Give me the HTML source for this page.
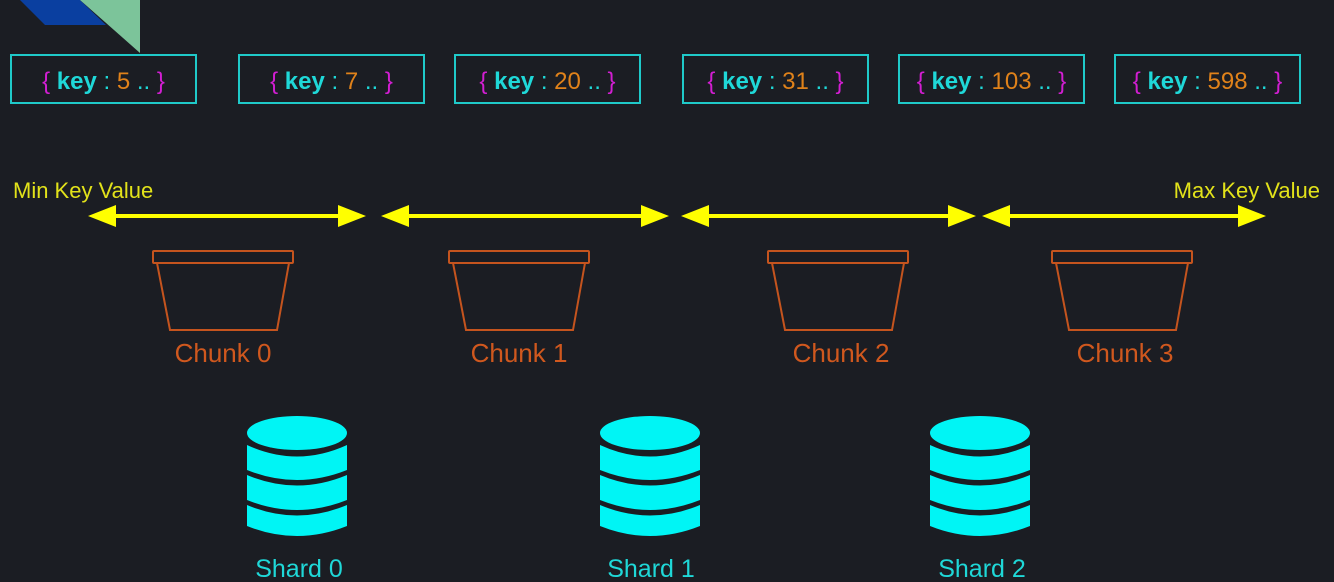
<!DOCTYPE html>
<html><head><meta charset="utf-8"><style>
html,body{margin:0;padding:0;background:#1b1d23;}
svg{display:block;}
text{font-family:"Liberation Sans",sans-serif;}
</style></head><body>
<svg width="1334" height="582" viewBox="0 0 1334 582" xmlns="http://www.w3.org/2000/svg">
<rect width="1334" height="582" fill="#1b1d23"/>
<polygon points="20,0 80,0 106,25 45,25" fill="#0a3fa0"/>
<polygon points="80,0 140,0 140,53" fill="#7cc49a"/>
<g fill="none" stroke="#1fc9c9" stroke-width="2">
<rect x="11" y="55" width="185" height="48"/>
<rect x="239" y="55" width="185" height="48"/>
<rect x="455" y="55" width="185" height="48"/>
<rect x="683" y="55" width="185" height="48"/>
<rect x="899" y="55" width="185" height="48"/>
<rect x="1115" y="55" width="185" height="48"/>
</g>
<g font-size="24" text-anchor="middle">
<text x="103.5" y="89"><tspan fill="#d21ed2">{ </tspan><tspan fill="#1fd8d8" font-weight="bold">key</tspan><tspan fill="#1fd8d8"> : </tspan><tspan fill="#e0821a">5</tspan><tspan fill="#1fd8d8"> .. </tspan><tspan fill="#d21ed2">}</tspan></text>
<text x="331.5" y="89"><tspan fill="#d21ed2">{ </tspan><tspan fill="#1fd8d8" font-weight="bold">key</tspan><tspan fill="#1fd8d8"> : </tspan><tspan fill="#e0821a">7</tspan><tspan fill="#1fd8d8"> .. </tspan><tspan fill="#d21ed2">}</tspan></text>
<text x="547.5" y="89"><tspan fill="#d21ed2">{ </tspan><tspan fill="#1fd8d8" font-weight="bold">key</tspan><tspan fill="#1fd8d8"> : </tspan><tspan fill="#e0821a">20</tspan><tspan fill="#1fd8d8"> .. </tspan><tspan fill="#d21ed2">}</tspan></text>
<text x="775.5" y="89"><tspan fill="#d21ed2">{ </tspan><tspan fill="#1fd8d8" font-weight="bold">key</tspan><tspan fill="#1fd8d8"> : </tspan><tspan fill="#e0821a">31</tspan><tspan fill="#1fd8d8"> .. </tspan><tspan fill="#d21ed2">}</tspan></text>
<text x="991.5" y="89"><tspan fill="#d21ed2">{ </tspan><tspan fill="#1fd8d8" font-weight="bold">key</tspan><tspan fill="#1fd8d8"> : </tspan><tspan fill="#e0821a">103</tspan><tspan fill="#1fd8d8"> .. </tspan><tspan fill="#d21ed2">}</tspan></text>
<text x="1207.5" y="89"><tspan fill="#d21ed2">{ </tspan><tspan fill="#1fd8d8" font-weight="bold">key</tspan><tspan fill="#1fd8d8"> : </tspan><tspan fill="#e0821a">598</tspan><tspan fill="#1fd8d8"> .. </tspan><tspan fill="#d21ed2">}</tspan></text>
</g>
<g font-size="22" fill="#e2e21a">
<text x="13" y="198">Min Key Value</text>
<text x="1320" y="198" text-anchor="end">Max Key Value</text>
</g>
<g stroke="#ffff00" stroke-width="4" fill="#ffff00">
<line x1="110" y1="216" x2="342" y2="216"/>
<polygon points="88,216 116,205 116,227" stroke="none"/><polygon points="366,216 338,205 338,227" stroke="none"/>
<line x1="403" y1="216" x2="645" y2="216"/>
<polygon points="381,216 409,205 409,227" stroke="none"/><polygon points="669,216 641,205 641,227" stroke="none"/>
<line x1="703" y1="216" x2="952" y2="216"/>
<polygon points="681,216 709,205 709,227" stroke="none"/><polygon points="976,216 948,205 948,227" stroke="none"/>
<line x1="1004" y1="216" x2="1242" y2="216"/>
<polygon points="982,216 1010,205 1010,227" stroke="none"/><polygon points="1266,216 1238,205 1238,227" stroke="none"/>
</g>
<g fill="none" stroke="#c5541e" stroke-width="2">
<g transform="translate(223,0)"><rect x="-70" y="251" width="140" height="12" rx="1"/><polygon points="-66,263 66,263 54,330 -53,330"/></g>
<g transform="translate(519,0)"><rect x="-70" y="251" width="140" height="12" rx="1"/><polygon points="-66,263 66,263 54,330 -53,330"/></g>
<g transform="translate(838,0)"><rect x="-70" y="251" width="140" height="12" rx="1"/><polygon points="-66,263 66,263 54,330 -53,330"/></g>
<g transform="translate(1122,0)"><rect x="-70" y="251" width="140" height="12" rx="1"/><polygon points="-66,263 66,263 54,330 -53,330"/></g>
</g>
<g font-size="26" fill="#d0581e" text-anchor="middle">
<text x="223" y="362">Chunk 0</text><text x="519" y="362">Chunk 1</text><text x="841" y="362">Chunk 2</text><text x="1125" y="362">Chunk 3</text>
</g>
<defs>
<g id="db" fill="#00f5f5">
<ellipse cx="0" cy="433" rx="50" ry="17"/>
<path d="M-50,445 Q0,468 50,445 L50,470 Q0,490 -50,470 Z"/>
<path d="M-50,475 Q0,496 50,475 L50,500 Q0,520 -50,500 Z"/>
<path d="M-50,505 Q0,526 50,505 L50,526 Q0,546 -50,526 Z"/>
</g>
</defs>
<use href="#db" x="297"/>
<use href="#db" x="650"/>
<use href="#db" x="980"/>
<g font-size="25" fill="#1fd8d8" text-anchor="middle">
<text x="299" y="577">Shard 0</text><text x="651" y="577">Shard 1</text><text x="982" y="577">Shard 2</text>
</g>
</svg>
</body></html>
